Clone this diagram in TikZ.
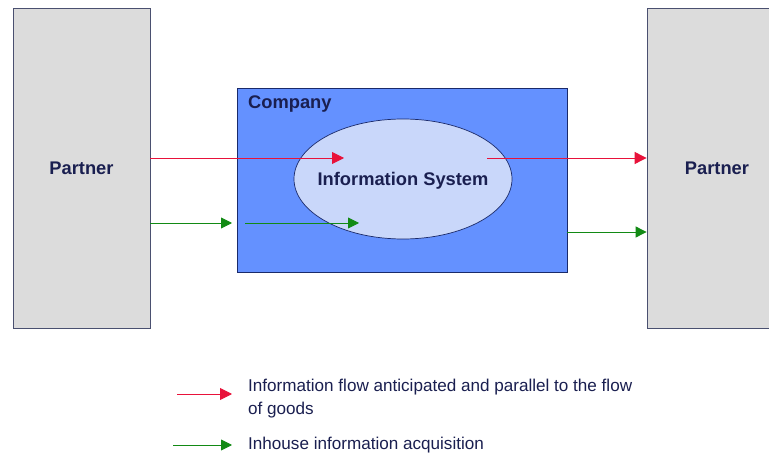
\documentclass[tikz,border=0pt]{standalone}
\usepackage{fontspec}
\setmainfont{Liberation Sans}
\usetikzlibrary{arrows.meta}
\definecolor{navy}{HTML}{1A1F50}
\definecolor{pgray}{HTML}{DCDCDC}
\definecolor{pborder}{HTML}{4A5070}
\definecolor{cblue}{HTML}{6491FF}
\definecolor{cborder}{HTML}{1A2A6A}
\definecolor{ifill}{HTML}{C9D7FA}
\definecolor{ared}{HTML}{E8123A}
\definecolor{agreen}{HTML}{128A14}
\tikzset{
  partner/.style={draw=pborder, line width=0.8pt, fill=pgray, minimum width=137pt, minimum height=320pt, inner sep=0pt, font=\fontsize{18.3}{21}\selectfont\bfseries, text=navy},
  company/.style={draw=cborder, line width=0.8pt, fill=cblue, minimum width=330pt, minimum height=184pt, inner sep=0pt},
  infosys/.style={ellipse, draw=cborder, line width=0.7pt, fill=ifill, minimum width=218pt, minimum height=120pt, inner sep=0pt},
  lbl/.style={font=\fontsize{18.3}{21}\selectfont\bfseries, text=navy, inner sep=0pt},
  legtext/.style={font=\fontsize{17.1}{23}\selectfont, text=navy, inner sep=0pt, align=left},
  redarrow/.style={draw=ared, line width=0.9pt, -{Triangle[length=12pt,width=12pt]}},
  greenarrow/.style={draw=agreen, line width=0.9pt, -{Triangle[length=11pt,width=11pt]}},
}
\usetikzlibrary{shapes.geometric}
\begin{document}
\begin{tikzpicture}[x=1pt,y=-1pt]
\useasboundingbox (0,0) rectangle (769,454);
\clip (0,0) rectangle (769,454);
\fill[white] (0,0) rectangle (769,454);
\node[partner] (p1) at (81.5,168) {Partner};
\node[partner, minimum width=140pt] (p2) at (717,168) {Partner};
\node[company] (comp) at (402,180) {};
\node[lbl, anchor=west] (complbl) at (248,104) {Company};
\node[infosys] (is) at (403,179) {};
\node[lbl] (istext) at (403,181) {Information System};
% arrows
\coordinate (r1s) at (p1.east |- 0,158);
\coordinate (r1e) at (344,158);
\draw[redarrow] (r1s) -- (r1e);
\coordinate (r2s) at (487,158);
\coordinate (r2e) at (p2.west |- 0,158);
\draw[redarrow] (r2s) -- (r2e);
\coordinate (g1s) at (p1.east |- 0,223);
\coordinate (g1e) at (232,223);
\draw[greenarrow] (g1s) -- (g1e);
\coordinate (g2s) at (245,223);
\coordinate (g2e) at (359,223);
\draw[greenarrow] (g2s) -- (g2e);
\coordinate (g3s) at (comp.east |- 0,232);
\coordinate (g3e) at (p2.west |- 0,232);
\draw[greenarrow] (g3s) -- (g3e);
% legend
\coordinate (lr1) at (177,394);
\coordinate (lr2) at (232,394);
\draw[redarrow] (lr1) -- (lr2);
\node[legtext, anchor=north west] (lt1) at (248,379) {Information flow anticipated and parallel to the flow\\of goods};
\coordinate (lg1) at (173,445);
\coordinate (lg2) at (232,445);
\draw[greenarrow] (lg1) -- (lg2);
\node[legtext, anchor=west] (lt2) at (248,445) {Inhouse information acquisition};
\end{tikzpicture}
\end{document}
